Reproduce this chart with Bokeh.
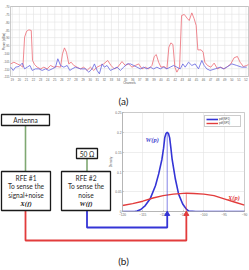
from bokeh.plotting import figure
from bokeh.models import Range1d, FixedTicker, Legend, LegendItem, NumeralTickFormatter
from bokeh.core.properties import value
from bokeh.embed import file_html
from bokeh.resources import INLINE

# ---------------- (a) power sweep across channels ----------------
channel_ticks = list(range(19, 53))
power_ticks = [-115, -110, -105, -100, -95, -90, -85, -80, -75, -70]

# antenna chain: signal + noise
sig_ch = [18.77, 19.23, 19.70, 20.17, 20.50, 20.74, 21.02, 21.35, 21.68, 21.86,
          22.15, 22.52, 22.99, 23.46, 23.93, 24.40, 24.87, 25.34, 25.81, 26.09,
          26.37, 26.65, 26.98, 27.31, 27.69, 28.15, 28.62, 29.09, 29.56, 30.03,
          30.50, 30.97, 31.44, 31.91, 32.47, 32.94, 33.41, 33.88, 34.49, 34.96,
          35.43, 35.90, 36.37, 36.84, 37.31, 37.78, 38.25, 38.72, 39.05, 39.33,
          39.66, 39.99, 40.46, 40.83, 41.11, 41.39, 41.68, 41.96, 42.24, 42.62,
          42.90, 43.28, 43.75, 43.98, 44.35, 44.68, 44.96, 45.20, 45.67, 45.95,
          46.18, 46.56, 47.03, 47.50, 47.97, 48.44, 48.91, 49.38, 49.85, 50.31,
          50.78, 51.16, 51.63, 52.10, 52.33]
sig_dbm = [-106.9, -105.8, -106.9, -107.9, -109.0, -89.7, -85.9, -85.0, -85.4, -104.7,
           -107.3, -109.0, -110.1, -109.0, -110.1, -107.9, -109.0, -108.6, -109.0, -100.4,
           -96.6, -99.4, -106.9, -105.8, -107.9, -109.0, -110.1, -109.0, -111.1, -109.0,
           -111.1, -109.0, -107.9, -106.9, -104.7, -107.9, -110.1, -109.0, -105.4, -107.9,
           -106.9, -109.0, -107.9, -106.9, -110.1, -109.0, -110.1, -107.9, -102.1, -100.9,
           -105.8, -109.0, -108.6, -110.1, -96.1, -93.4, -94.4, -109.0, -112.2, -109.0,
           -75.8, -75.1, -77.9, -79.0, -74.1, -77.9, -82.2, -97.9, -97.9, -99.4,
           -105.8, -107.9, -109.0, -106.4, -110.1, -109.0, -110.1, -108.6, -106.9, -103.0,
           -102.1, -105.8, -108.6, -107.9, -107.3]

# 50 ohm terminated chain: noise only
noise_ch = [18.77, 19.14, 19.47, 19.94, 20.41, 20.74, 21.11, 21.49, 21.82, 22.29,
            22.76, 23.23, 23.69, 24.16, 24.63, 25.10, 25.43, 25.81, 26.28, 26.75,
            27.12, 27.45, 27.92, 28.62, 29.33, 29.80, 30.27, 30.60, 30.97, 31.30,
            31.68, 32.00, 32.38, 32.85, 33.32, 33.79, 34.26, 34.73, 35.20, 35.67,
            36.14, 36.61, 37.08, 37.54, 38.01, 38.48, 38.95, 39.42, 39.89, 40.36,
            40.83, 41.30, 41.77, 42.24, 42.71, 43.08, 43.41, 43.88, 44.35, 44.82,
            45.29, 45.76, 46.09, 46.46, 46.93, 47.64, 48.34, 48.81, 49.28, 49.99,
            50.69, 51.39, 52.10]
noise_dbm = [-109.0, -111.1, -109.0, -108.6, -106.4, -110.1, -109.0, -107.9, -111.1, -110.1,
             -110.1, -111.1, -110.1, -111.1, -110.1, -109.0, -103.6, -107.9, -109.0, -107.9,
             -111.1, -110.1, -109.0, -110.1, -110.1, -112.2, -110.1, -106.9, -111.1, -113.3,
             -106.9, -109.0, -107.9, -111.1, -110.1, -109.0, -111.1, -109.0, -106.9, -106.9,
             -107.9, -109.0, -110.1, -109.0, -110.1, -109.0, -110.1, -109.0, -110.1, -109.0,
             -110.1, -109.0, -107.9, -109.0, -110.1, -106.9, -109.0, -105.8, -107.9, -106.9,
             -110.1, -104.7, -107.9, -110.1, -111.1, -110.1, -109.0, -110.1, -109.0, -106.9,
             -107.9, -109.0, -109.0]

# ---------------- (b) power densities ----------------
dens_x_ticks = [-120, -115, -110, -105, -100, -95, -90]
dens_y_ticks = [0, 0.05, 0.1, 0.15, 0.2, 0.25]

w_p = [-120.0, -117.0, -116.4, -115.5, -114.4, -113.2, -111.9, -111.1, -110.3, -109.9,
       -109.6, -109.3, -109.0, -108.7, -108.4, -108.1, -107.8, -107.0, -106.2, -105.2,
       -104.3, -103.7, -102.0, -90.0]
w_pdf = [0.0, 0.0, 0.001, 0.005, 0.015, 0.032, 0.065, 0.095, 0.132, 0.160,
         0.187, 0.197, 0.200, 0.197, 0.186, 0.160, 0.132, 0.082, 0.044, 0.019,
         0.006, 0.001, 0.0, 0.0]

x_p = [-120.0, -117.5, -115.0, -112.5, -110.0, -107.5, -105.0, -104.3, -102.5, -100.0,
       -97.5, -95.0, -92.5, -90.0]
x_pdf = [0.015, 0.020, 0.026, 0.034, 0.040, 0.044, 0.0458, 0.046, 0.0455, 0.044,
         0.040, 0.032, 0.024, 0.016]

BLUE = "#3434d6"
RED = "#e23c3c"
GREEN = "#7fa872"
AXIS_GREY = "#a8a8a8"
GRID_GREY = "#e2e2e2"
LABEL_GREY = "#666666"

# page geometry, pixels from the top-left corner
PAGE_W, PAGE_H = 249, 270
DENS_L, DENS_R, DENS_T, DENS_B = 122, 244, 112, 211   # density frame = plot frame
DENS_XMIN, DENS_XMAX, DENS_YMIN, DENS_YMAX = -120, -90, 0, 0.25
TOP_L, TOP_R, TOP_T, TOP_B = 10, 248, 6, 76            # spectrum panel box
TOP_XMIN, TOP_XMAX, TOP_YMIN, TOP_YMAX = 18.75, 52.35, -115, -70


def span(v0, v1, p0, p1, q0, q1):
    """Values seen at pixels q0, q1 for a linear scale putting v0 at p0 and v1 at p1."""
    k = (v1 - v0) / (p1 - p0)
    return v0 + (q0 - p0) * k, v0 + (q1 - p0) * k


p = figure(width=PAGE_W, height=PAGE_H, title=None,
           x_range=Range1d(DENS_XMIN, DENS_XMAX), y_range=Range1d(DENS_YMIN, DENS_YMAX),
           output_backend="svg", toolbar_location=None,
           min_border_left=DENS_L, min_border_right=PAGE_W - DENS_R,
           min_border_top=DENS_T, min_border_bottom=PAGE_H - DENS_B,
           outline_line_color=AXIS_GREY, outline_line_width=0.6)

# spectrum panel scales, and plain page pixels for the block diagram
ch0, ch1 = span(TOP_XMIN, TOP_XMAX, TOP_L, TOP_R, DENS_L, DENS_R)
pw0, pw1 = span(TOP_YMIN, TOP_YMAX, TOP_B, TOP_T, DENS_B, DENS_T)
p.extra_x_ranges = {"ch": Range1d(ch0, ch1), "px": Range1d(DENS_L, DENS_R)}
p.extra_y_ranges = {"pw": Range1d(pw0, pw1), "py": Range1d(DENS_B, DENS_T)}


def style_axis(ax, size):
    ax.major_label_text_font_size = size
    ax.major_label_text_color = LABEL_GREY
    ax.major_label_text_font = "Liberation Sans"
    ax.axis_label_text_font_size = size
    ax.axis_label_text_font = "Liberation Sans"
    ax.axis_label_text_font_style = "normal"
    ax.axis_label_text_color = "#555555"
    ax.axis_label_standoff = 0
    ax.major_label_standoff = 1
    ax.major_tick_out = 0
    ax.major_tick_in = 1
    ax.minor_tick_out = 0
    ax.minor_tick_in = 0
    ax.axis_line_color = AXIS_GREY
    ax.axis_line_width = 0.6
    ax.major_tick_line_color = AXIS_GREY


# ---------------- (b) density panel ----------------
dens_xaxis, dens_yaxis = p.xaxis[0], p.yaxis[0]
dens_xaxis.ticker = FixedTicker(ticks=dens_x_ticks)
dens_yaxis.ticker = FixedTicker(ticks=dens_y_ticks)
dens_yaxis.formatter = NumeralTickFormatter(format="0.[00]")
dens_yaxis.axis_label = "Density"
style_axis(dens_xaxis, "3.2px")
style_axis(dens_yaxis, "3.2px")
p.grid.grid_line_color = GRID_GREY
p.grid.grid_line_width = 0.6

rw = p.line(w_p, w_pdf, line_color=BLUE, line_width=1.6)
rx = p.line(x_p, x_pdf, line_color=RED, line_width=1.4)
w_peak_i = w_pdf.index(max(w_pdf))
x_peak_i = x_pdf.index(max(x_pdf))
p.segment(x0=[w_p[w_peak_i]], y0=[0], x1=[w_p[w_peak_i]], y1=[w_pdf[w_peak_i]],
          line_color=BLUE, line_width=1.2, line_dash="1 1")
p.segment(x0=[x_p[x_peak_i]], y0=[0], x1=[x_p[x_peak_i]], y1=[x_pdf[x_peak_i]],
          line_color=RED, line_width=1.2, line_dash="1 1")
p.text(x=[-112.7], y=[0.183], text=["W(p)"], text_color="#4646d0",
       text_font=value("Liberation Serif"), text_font_style="bold italic",
       text_font_size=value("6.5px"), text_align="center", text_baseline="middle")
p.text(x=[-92.6], y=[0.036], text=["X(p)"], text_color="#e04040",
       text_font=value("Liberation Serif"), text_font_style="bold italic",
       text_font_size=value("6.5px"), text_align="center", text_baseline="middle")

legend = Legend(items=[LegendItem(label="pdf(NF1)", renderers=[rw]),
                       LegendItem(label="pdf(SP1)", renderers=[rx])],
                location="top_right", label_text_font_size="2.8px",
                label_text_font="Liberation Sans", label_text_color="#444444",
                glyph_width=12, glyph_height=4, label_height=3, label_standoff=1,
                spacing=0, padding=1, margin=3, border_line_color="#9a9a9a",
                border_line_width=0.5, background_fill_color="white")
p.add_layout(legend)

# ---------------- (a) spectrum panel ----------------
top = dict(x_range_name="ch", y_range_name="pw")
n_ch, n_pw = len(channel_ticks), len(power_ticks)
p.segment(x0=channel_ticks, y0=[TOP_YMIN] * n_ch, x1=channel_ticks, y1=[TOP_YMAX] * n_ch,
          line_color=GRID_GREY, line_width=0.6, level="annotation", **top)
p.segment(x0=[TOP_XMIN] * n_pw, y0=power_ticks, x1=[TOP_XMAX] * n_pw, y1=power_ticks,
          line_color=GRID_GREY, line_width=0.6, level="annotation", **top)
p.quad(left=[TOP_XMIN], right=[TOP_XMAX], bottom=[TOP_YMIN], top=[TOP_YMAX],
       fill_color=None, line_color=AXIS_GREY, line_width=0.6, level="annotation", **top)
p.line(sig_ch, sig_dbm, line_color="#ec6a74", line_width=0.8, level="overlay", **top)
p.line(noise_ch, noise_dbm, line_color="#6262e0", line_width=0.8, level="overlay", **top)

# tick labels of the spectrum panel
p.text(x=channel_ticks, y=[TOP_YMIN] * n_ch, text=[str(c) for c in channel_ticks],
       y_offset=1.2, text_font=value("Liberation Sans"), text_font_size=value("3px"),
       text_align="center", text_baseline="top", text_color=LABEL_GREY,
       level="overlay", **top)
p.text(x=[TOP_XMIN] * n_pw, y=power_ticks, text=[str(v) for v in power_ticks],
       x_offset=-1, text_font=value("Liberation Sans"), text_font_size=value("3px"),
       text_align="right", text_baseline="middle", text_color=LABEL_GREY,
       level="overlay", **top)

# ---------------- block diagram and captions (page pixels) ----------------
diag = dict(x_range_name="px", y_range_name="py", level="overlay")
p.text(x=[(TOP_L + TOP_R) / 2], y=[82], text=["Channels"], text_font=value("Liberation Sans"),
       text_font_size=value("3px"), text_align="center", text_baseline="middle",
       text_color="#555555", **diag)
p.text(x=[3.2], y=[(TOP_T + TOP_B) / 2], text=["Power (dBm)"], angle=1.5708,
       text_font=value("Liberation Sans"), text_font_size=value("3px"),
       text_align="center", text_baseline="middle", text_color="#555555", **diag)


def dens_px(v):
    return DENS_L + (v - DENS_XMIN) / (DENS_XMAX - DENS_XMIN) * (DENS_R - DENS_L)


xb = dens_px(w_p[w_peak_i])
xr = dens_px(x_p[x_peak_i])

# green feed lines
p.multi_line(xs=[[25, 25], [86.5, 86.5]], ys=[[125, 171], [158, 171]],
             line_color=GREEN, line_width=1.6, **diag)
# connectors into the density panel
p.line(x=[86.5, 86.5, xb, xb], y=[210, 227, 227, 215], line_color=BLUE, line_width=1.8, **diag)
p.line(x=[25, 25, xr, xr], y=[210, 240, 240, 215], line_color=RED, line_width=1.8, **diag)
p.scatter(x=[xb], y=[213.5], marker="triangle", size=5, fill_color=BLUE, line_color=BLUE, **diag)
p.scatter(x=[xr], y=[213.5], marker="triangle", size=5, fill_color=RED, line_color=RED, **diag)

p.quad(left=[1, 76, 1, 61], right=[49, 97, 50, 110],
       top=[114, 148, 171, 171], bottom=[125, 158, 210, 210],
       fill_color="white", line_color="#1a1a1a", line_width=1.3, **diag)

p.text(x=[25, 86.5, 25.5, 25.5, 25.5, 85.5, 85.5, 85.5],
       y=[119.8, 153.2, 177.5, 185.8, 194.2, 177.5, 185.8, 194.2],
       text=["Antenna", "50 \u03a9", "RFE #1", "To sense the", "signal+noise",
             "RFE #2", "To sense the", "noise"],
       text_font=value("Lato"), text_font_size=value("6.6px"),
       text_align="center", text_baseline="middle", text_color="#2a2a2a", **diag)
p.text(x=[25.5, 85.5], y=[202.6, 202.6], text=["X(f)", "W(f)"],
       text_font=value("Liberation Serif"), text_font_style="bold italic",
       text_font_size=value("6.8px"), text_align="center", text_baseline="middle",
       text_color="#1a1a1a", **diag)
p.text(x=[123, 123], y=[100.5, 260], text=["(a)", "(b)"],
       text_font=value("Lato"), text_font_size=value("10px"),
       text_align="center", text_baseline="middle", text_color="#222222", **diag)

open("out.html", "w").write(file_html(p, INLINE))
